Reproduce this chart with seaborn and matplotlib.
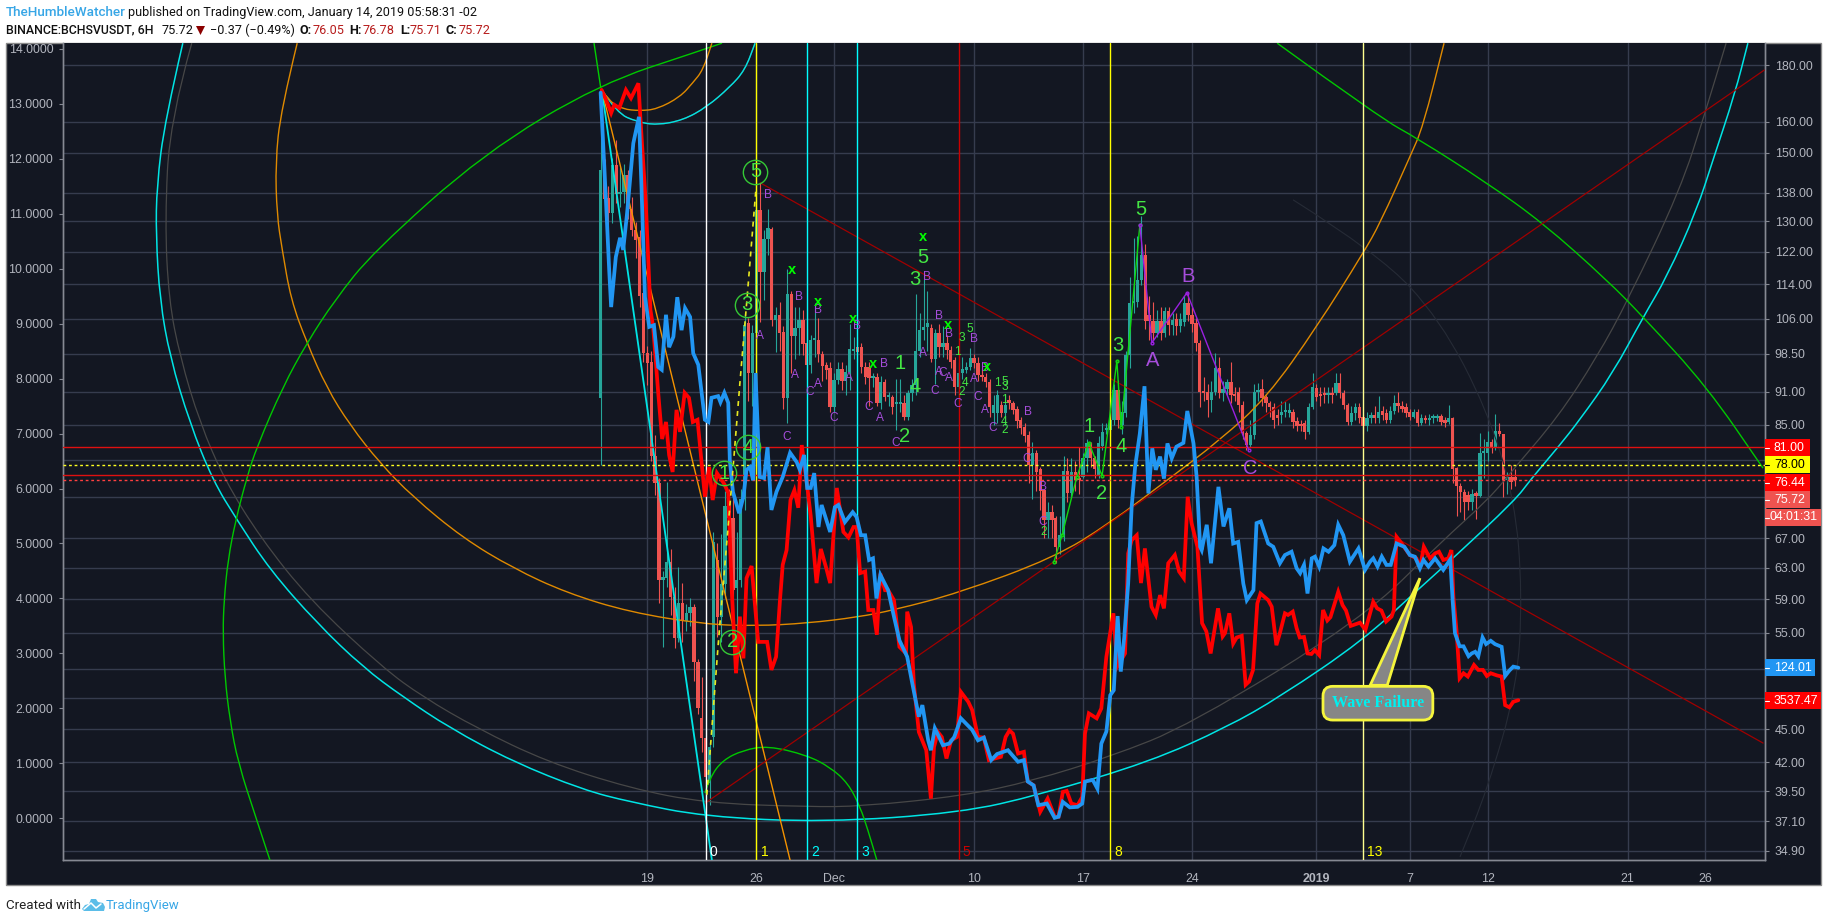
import numpy as np
import pandas as pd
import seaborn as sns
import matplotlib
matplotlib.use("Agg")
import matplotlib.pyplot as plt
from matplotlib.lines import Line2D
from matplotlib.patches import Rectangle, PathPatch, Polygon
from matplotlib.path import Path

# ------------------------------------------------------------------ data
# 6H candles; values are on the left-hand scale of the chart
candle_open = [7.65,11.79,11.28,11.01,11.88,11.36,11.39,11.70,11.08,10.70,10.57,9.56,8.46,8.30,6.59,6.10,4.34,4.37,4.66,4.03,3.28,3.92,3.59,3.74,3.84,2.84,1.83,1.46,0.64,1.48,4.70,3.66,4.26,5.68,5.46,4.19,4.34,5.81,9.01,8.10,8.83,11.07,9.94,10.54,10.72,9.07,9.16,8.85,7.65,9.54,8.77,8.92,9.07,8.65,8.25,8.70,8.70,8.45,8.25,8.19,7.48,7.97,8.17,7.95,8.12,8.50,8.57,8.57,8.21,8.21,8.01,8.03,7.56,7.94,7.66,7.66,7.54,7.54,7.56,7.30,7.74,7.88,8.50,8.88,8.94,8.92,8.35,8.83,8.57,8.65,8.52,8.34,7.85,8.10,8.15,8.21,8.37,8.28,8.06,8.03,7.94,7.37,7.37,7.52,7.37,7.61,7.56,7.45,7.25,7.12,6.97,6.43,6.65,6.35,5.97,5.43,5.57,5.46,4.94,5.15,6.32,5.92,6.30,6.20,6.21,6.55,6.79,6.55,6.25,6.77,7.06,7.06,7.25,7.79,7.15,7.37,8.43,9.37,9.39,9.79,10.25,9.16,9.05,8.83,9.05,8.83,9.23,8.97,9.09,8.96,9.03,9.37,9.16,9.01,8.65,7.76,7.76,7.61,7.76,8.19,7.74,7.81,7.94,7.70,7.76,7.52,7.01,6.79,6.97,7.76,7.81,7.66,7.56,7.48,7.34,7.34,7.39,7.37,7.39,7.23,7.17,7.19,7.03,7.48,7.83,7.72,7.72,7.70,7.72,7.74,7.92,7.74,7.52,7.21,7.37,7.48,7.30,7.14,7.28,7.34,7.28,7.41,7.37,7.25,7.41,7.56,7.50,7.48,7.39,7.30,7.39,7.19,7.28,7.25,7.28,7.28,7.31,7.25,7.21,7.28,6.37,6.04,5.93,5.88,5.75,5.90,5.87,6.65,6.65,6.85,6.74,7.05,6.99,6.15,6.21,6.21]
candle_close = [11.79,11.27,11.01,11.88,11.36,11.39,11.70,11.08,10.70,10.52,9.50,8.46,8.28,6.59,6.10,4.34,4.39,4.66,4.03,3.28,3.92,3.59,3.74,3.84,2.84,2.01,1.46,0.75,1.30,5.03,3.66,4.26,5.68,5.46,4.15,4.34,5.81,8.97,8.10,8.83,11.07,9.94,10.54,10.74,9.07,9.16,8.83,7.65,9.54,8.77,8.92,9.07,8.63,8.25,8.70,8.72,8.45,8.23,8.16,7.48,7.97,8.17,7.95,8.12,8.54,8.52,8.48,8.21,8.03,8.01,8.04,7.56,7.94,7.66,7.66,7.48,7.54,7.54,7.30,7.74,7.88,8.50,8.88,8.94,9.01,8.35,8.83,8.57,8.65,8.52,8.30,7.85,8.10,8.17,8.21,8.37,8.28,8.06,8.03,7.94,7.48,7.52,7.70,7.37,7.52,7.56,7.43,7.23,7.10,6.96,6.43,6.65,6.30,5.95,5.43,5.57,5.43,4.94,5.15,6.32,5.92,6.30,6.15,6.15,6.55,6.83,6.55,6.35,6.83,7.03,7.09,7.25,7.79,7.25,7.39,8.43,9.37,9.39,9.79,10.25,9.05,9.05,8.83,9.05,8.83,9.23,8.97,9.07,8.96,9.08,9.37,9.16,8.99,8.65,7.76,7.74,7.61,7.76,8.19,7.74,7.81,7.94,7.70,7.68,7.52,7.01,6.79,6.97,7.76,7.79,7.65,7.56,7.48,7.25,7.28,7.39,7.43,7.43,7.21,7.14,7.14,7.03,7.48,7.85,7.66,7.68,7.70,7.74,7.70,7.92,7.74,7.52,7.21,7.37,7.48,7.28,7.14,7.28,7.34,7.28,7.39,7.34,7.25,7.41,7.56,7.50,7.45,7.37,7.30,7.39,7.19,7.28,7.25,7.28,7.30,7.31,7.21,7.19,7.28,6.35,6.04,5.93,5.75,5.75,5.90,5.87,6.65,6.67,6.85,6.74,7.05,6.99,6.15,6.21,6.12,6.15]
candle_high = [13.2,12.0,11.5,12.01,12.34,11.84,11.9,11.8,11.3,10.85,10.7,9.90,8.6,8.5,6.97,6.2,4.5,6.12,4.9,4.2,4.57,4.28,3.9,4.0,3.9,2.9,2.58,1.6,1.4,5.21,5.0,5.18,5.95,6.0,5.9,5.2,6.0,9.2,9.1,8.97,11.45,11.55,10.7,11.08,10.75,9.3,9.4,8.95,10.0,9.6,9.3,9.3,9.25,8.9,8.8,9.37,9.1,8.5,8.3,8.3,8.1,8.3,8.3,8.25,9.0,8.75,8.75,8.65,8.3,8.3,8.1,8.1,8.05,8.0,7.75,7.7,8.0,8.0,7.7,7.8,8.0,9.54,9.2,9.9,9.6,9.0,8.9,9.0,8.95,8.8,8.6,8.4,8.3,8.4,8.3,8.55,8.45,8.4,8.2,8.1,8.0,7.7,7.8,7.6,7.7,7.7,7.6,7.5,7.3,7.2,7.05,6.85,6.7,6.4,6.0,5.75,5.7,5.5,5.5,6.6,6.55,6.55,6.5,6.75,6.65,6.9,6.85,6.6,6.95,7.2,7.2,7.5,7.9,7.97,7.6,8.5,9.85,10.55,10.6,10.95,10.45,9.5,9.4,9.25,9.3,9.3,9.3,9.2,9.2,9.2,9.5,9.55,9.3,9.1,8.7,8.03,7.9,7.95,8.46,8.4,7.95,8.0,8.3,7.85,7.85,7.6,7.05,7.25,7.9,7.92,8.0,7.7,7.6,7.55,7.45,7.6,7.6,7.55,7.45,7.3,7.25,7.25,7.55,8.1,7.9,7.85,7.85,7.85,7.85,8.1,8.1,7.8,7.55,7.5,7.55,7.55,7.35,7.4,7.4,7.5,7.68,7.5,7.45,7.5,7.7,7.75,7.6,7.55,7.45,7.45,7.45,7.35,7.33,7.35,7.35,7.36,7.36,7.3,7.52,7.3,6.4,6.1,6.0,5.95,6.0,5.95,7.01,6.9,7.05,6.9,7.35,7.2,7.0,6.3,6.43,6.35]
candle_low = [6.43,10.95,10.3,10.83,11.2,11.12,11.2,10.9,10.6,10.2,9.30,8.30,7.88,6.5,5.88,3.92,3.12,4.2,3.7,3.1,3.2,3.2,3.4,3.5,2.5,1.9,1.2,0.55,0.25,1.3,3.3,3.2,4.0,4.8,3.3,3.0,4.2,5.6,7.6,7.5,7.9,9.03,9.43,10.25,8.95,8.48,8.5,7.45,7.2,8.1,8.35,8.43,8.43,8.0,8.1,8.4,8.3,7.95,8.0,7.4,7.39,7.9,7.8,7.7,7.8,8.35,8.3,8.1,7.9,7.5,7.85,7.5,7.45,7.6,7.5,7.35,7.06,7.4,7.25,7.25,7.6,7.7,8.4,8.7,8.5,8.3,7.9,8.4,8.4,8.35,8.2,7.7,7.6,8.0,8.1,8.15,8.2,7.95,7.95,7.85,7.3,7.15,7.2,7.3,7.15,7.45,7.35,7.1,7.0,6.85,6.1,5.8,5.95,5.6,5.1,5.1,5.1,4.65,4.8,5.05,5.75,5.85,5.95,5.9,6.2,6.3,6.4,6.2,6.2,6.7,7.0,6.95,7.15,7.1,7.0,7.3,8.2,9.2,9.3,9.7,8.9,8.7,8.7,8.75,8.7,8.75,8.8,8.8,8.8,8.85,8.95,9.05,8.85,8.5,7.48,7.6,7.3,7.4,7.7,7.65,7.6,7.7,7.55,7.6,7.4,6.9,6.7,6.75,6.9,7.6,7.5,7.4,7.3,7.1,7.15,7.2,7.3,7.3,7.1,7.05,7.05,6.9,7.0,7.45,7.6,7.5,7.55,7.55,7.55,7.7,7.65,7.45,7.15,7.15,7.25,7.2,7.0,7.05,7.2,7.2,7.2,7.25,7.2,7.2,7.35,7.4,7.4,7.3,7.25,7.28,7.13,7.15,7.2,7.15,7.2,7.22,7.15,7.12,7.18,6.1,5.5,5.57,5.43,5.6,5.6,5.45,5.85,6.2,6.5,6.65,6.7,6.95,5.85,5.9,6.0,6.05]

blue_t = [0,1.4,2.2,2.7,3.9,5,5.8,6.8,8.4,9.85,10.5,11.4,12.5,13.7,14.8,15.7,16.8,17.6,18.7,19.7,20.8,21.7,23,23.8,25.1,26.8,27.7,28.5,30.2,30.8,31.8,32.8,33.2,34,35.6,36.7,37.5,38.4,39.2,39.8,40.9,42,42.9,43.9,45.2,46.8,48.7,50.4,51.2,52.3,53.1,54,54.9,56,56.8,59,60.2,61.1,62.8,64.8,65.8,66.9,68,69,70,70.9,71.9,73.9,75.4,76.8,78.8,80.1,81.8,82.7,84.2,84.9,85.9,88,89.6,90.9,92.6,95.5,97,98.5,100.4,101.9,104.7,107.3,108.8,109.8,111.3,112.5,114.7,116.7,117.7,118.8,120.6,122.6,123.8,124.5,126.5,127.7,128.7,130,131,131.9,132.9,133.7,134.6,135.6,136.5,137.4,138.6,139.8,140.8,141.8,142.7,143.8,144.8,145.7,146.8,148,149.8,150.8,152.4,153.2,154.1,154.5,155.8,156.9,158.8,160.1,161.6,162.6,163.9,165.2,166.1,167.8,168.6,169.7,171.6,172.9,174.6,175.9,177.6,178.9,179.8,180.8,181.7,182.8,183.6,184.7,185.8,187.1,188.6,189.6,190.9,192.6,194.8,196.5,197.8,198.6,199.7,200.8,202,203.1,204.6,206.6,208,209.3,210.6,211.5,212.8,214.5,216.6,218.4,219,219.6,220.8,221.8,223.1,223.9,224.8,225.6,226.7,227.6,228.8,229.9,231.6,232.5,233.6,234.6,235.9]
blue_v = [13.2,11.19,9.97,9.30,10.21,10.56,10.34,11.01,12.28,12.76,11.48,9.48,8.94,8.97,8.21,8.16,9.16,8.57,8.76,9.48,8.88,9.28,9.12,8.46,8.25,7.25,7.21,7.65,7.68,7.57,7.74,7.56,6.52,5.94,5.55,5.85,6.34,6.39,6.15,8.10,6.21,6.19,6.75,5.61,5.94,6.21,6.65,6.48,6.34,6.61,6.01,6.01,6.28,5.30,5.70,5.21,5.66,5.70,5.39,5.57,5.48,5.15,5.15,4.70,4.73,4.0,4.43,4.15,3.67,3.24,2.94,2.46,1.85,2.06,1.42,1.24,1.64,1.33,1.36,1.48,1.82,1.61,1.42,1.47,1.06,1.17,1.24,1.03,1.06,0.67,0.60,0.24,0.27,0.01,0.03,0.30,0.20,0.21,0.27,0.67,0.70,0.54,1.36,1.58,2.24,2.33,3.68,2.67,3.30,4.27,5.67,6.40,7.0,7.86,5.91,6.73,6.34,6.58,6.18,6.82,6.55,6.76,6.83,7.41,6.82,6.21,4.94,4.88,5.34,4.64,6.03,5.31,5.64,5.0,5.03,4.27,3.97,4.15,5.37,5.40,5.0,4.94,4.64,4.79,4.85,4.55,4.46,4.61,4.09,4.73,4.76,4.58,4.91,4.85,4.97,5.34,5.15,4.67,4.91,4.52,4.67,4.73,4.58,4.76,4.61,4.61,5.0,4.94,4.79,4.76,4.55,4.70,4.58,4.73,4.52,4.71,3.97,3.37,3.13,3.13,2.95,3.0,3.03,2.95,3.29,3.17,3.23,3.17,3.12,2.59,2.69,2.76,2.74]

red_t = [0.25,1.4,2.7,3.5,4.8,6.5,7.8,9.7,10.3,11.6,12.8,13.5,14.8,15.8,16.8,17.6,18.5,19.5,20.4,21.6,22.7,23.7,24.9,26.8,27.9,28.8,29.9,31.8,32.8,33.7,34.8,35.8,36.7,37.5,38.8,40.5,42.8,43.9,45.1,46.1,46.8,47.8,48.8,49.8,50.8,51.7,53,54,55.5,56.6,58,59,60.7,62.4,63.7,65,65.8,66.7,68,68.8,70.1,71,71.9,73.1,73.9,75.4,76.8,78.5,78.8,79.8,80.5,81.8,83.7,84.9,85.7,86.7,87.7,88.9,90.1,91.6,92.6,94.5,95.5,97,98.5,99.8,102.9,104.1,105.1,106,107.3,108.8,109.8,111.3,113,114.9,116.7,117.7,118.8,119.8,121,122.6,123.8,124.5,125.5,127.5,128.7,130,131.8,132.8,134.8,135.6,136.5,137.8,138.9,139.9,141.6,142.7,143.8,144.8,145.9,147.6,148.7,149.9,150.9,151.9,153.4,154.6,155.7,156.8,158.7,159.9,160.5,161.6,162.6,163.5,164.8,165.8,166.7,167.7,168.8,169.6,171.6,172.5,173.7,174.6,175.9,176.7,177.9,178.9,179.7,180.8,181.7,182.7,183.6,184.7,185.7,186.8,187.6,189.6,190.7,191.6,192.8,195.2,196.6,198.6,199.6,200.7,201.9,203.3,203.9,204.6,205.9,208,209.7,210.6,211.6,213.2,214.5,215.5,216.6,217.9,218.7,219.2,220,220.8,221.8,222.9,224.5,225.6,226.8,227.8,228.8,230.4,231.6,232.5,233.6,234.6,235.9]
red_v = [13.25,13.07,12.83,12.98,12.92,13.25,13.10,13.37,12.65,11.19,9.25,8.94,7.74,6.9,7.21,6.61,6.30,7.43,7.03,7.74,7.65,7.21,7.25,5.85,6.39,5.79,6.28,6.08,5.92,4.15,2.64,3.67,2.91,4.37,4.59,3.21,3.21,2.70,2.94,3.97,4.61,4.88,5.79,5.97,5.65,6.79,6.10,5.5,4.28,4.9,4.55,4.28,6.01,5.21,5.11,5.30,5.30,4.46,4.49,3.79,3.79,3.34,4.45,4.15,4.15,3.97,3.12,3.0,3.76,3.48,2.45,1.57,1.24,0.36,1.30,1.57,1.48,1.09,1.42,1.48,2.30,2.12,1.97,1.48,1.47,1.06,1.12,1.48,1.60,1.54,1.18,1.21,0.67,0.60,0.12,0.36,0.03,0.03,0.48,0.50,0.27,0.24,0.39,1.54,1.91,1.82,2.0,2.94,3.73,2.76,3.0,4.82,5.06,5.15,4.28,4.91,3.85,3.70,4.06,3.82,4.64,4.79,4.49,4.37,5.85,5.37,4.94,3.55,3.40,3.0,3.82,3.31,3.37,3.73,3.18,3.29,3.32,2.43,2.49,2.70,3.91,4.09,3.97,3.85,3.15,3.37,3.73,3.70,3.76,3.46,3.29,3.30,3.0,2.99,3.06,2.97,3.79,3.6,3.66,4.12,3.88,3.78,3.5,3.56,3.43,3.94,3.82,3.78,3.58,3.67,3.79,5.12,5.0,4.79,4.73,4.55,4.94,4.73,4.82,4.85,4.7,4.73,4.88,4.03,3.42,2.55,2.64,2.58,2.79,2.70,2.70,2.59,2.64,2.6,2.58,2.06,2.02,2.12,2.15]

# Fibonacci / arc drawing tools (candle index, left scale)
arc_cyan = [(-107.4,14.10),(-112,12.70),(-114.1,11.5),(-114.3,10.6),(-113.3,9.43),(-110.7,8.39),(-105.6,7.19),(-99.7,6.15),(-93.5,5.43),(-85,4.52),(-72.9,3.55),(-61.1,2.75),(-50.8,2.21),(-38.7,1.64),(-22.5,1.03),(-4.5,0.52),(7.5,0.30),(26.8,0.03),(57.7,-0.07),(92.4,0.10),(112.9,0.43),(141.2,1.03),(161,1.66),(174.6,2.21),(196,3.24),(209.9,4.15),(219.1,4.73),(235.1,5.79),(238.9,6.15),(246.1,6.75),(251.7,7.25),(260.2,8.10),(268,9.12),(274.1,9.85),(281.8,11.07),(285.9,11.97),(291.6,13.19),(294.9,14.10)]
arc_grey = [(-105.1,14.10),(-110.7,12.70),(-112,10.88),(-111,9.43),(-108.1,8.39),(-103,7.19),(-96.6,6.15),(-87.6,5.12),(-74.7,3.97),(-56,2.74),(-45.7,2.21),(-31.8,1.64),(-13.8,1.03),(7.5,0.55),(26.8,0.28),(53.3,0.21),(67.4,0.22),(93.1,0.41),(110.9,0.68),(130.9,1.12),(151.5,1.70),(196,3.64),(215.8,5.01),(228.6,5.83),(234.5,6.34),(246.1,7.30),(256.1,8.39),(264.1,9.43),(277.5,11.43),(283.9,12.83),(289.3,14.10)]
arc_orange = [(-78,14.10),(-82.2,12.88),(-83.6,11.92),(-83.2,10.97),(-81.9,10.36),(-79.6,9.43),(-75.5,8.65),(-70.4,7.83),(-64.4,7.15),(-56.7,6.46),(-48.3,5.85),(-35.4,5.10),(-22.5,4.55),(-8.7,4.10),(7.5,3.75),(26.8,3.53),(39.9,3.50),(53.1,3.55),(66,3.66),(75.4,3.79),(92,4.10),(116.5,4.74),(130.9,5.37),(145.6,6.15),(159.2,6.88),(171.3,7.66),(184.1,8.94),(196,10.28),(200.4,10.83),(208,12.03),(211.4,12.58),(216.8,14.10)]
arc_green_left = [(31.2,14.10),(25.5,13.96),(-0.2,13.36),(-30,12.10),(-58.5,10.30),(-68.3,9.43),(-75.5,8.65),(-81.7,7.85),(-88.4,6.75),(-90.9,6.21),(-93.8,5.43),(-95.8,4.70),(-96.8,3.97),(-97.1,3.37),(-96.6,2.57),(-95.3,1.79),(-93.2,1.01),(-88.4,-0.03),(-85,-0.76)]
arc_green_right = [(173.9,14.10),(200.4,12.74),(209.9,12.37),(227.8,11.56),(242.2,10.83),(258.7,9.79),(268,9.12),(284.4,7.85),(298.8,6.37)]
arc_green_small = [(26.8,0.46),(28.1,0.75),(31.4,1.06),(36.6,1.24),(43,1.32),(53,1.15),(59,0.93),(63.6,0.64),(66.7,0.21),(68.7,-0.21),(71,-0.76)]
arc_cyan_top = [(0.3,13.25),(4.2,12.83),(9.3,12.67),(14.5,12.61),(21.2,12.70),(27.3,12.94),(33.2,13.30),(37.1,13.61),(39.7,14.10)]
arc_orange_top = [(0.3,13.25),(2.4,13.03),(5.7,12.90),(10.1,12.87),(14.5,12.90),(20.4,13.12),(23.7,13.38),(26.3,13.61),(28.6,14.10)]
arc_faint = [(178,11.25),(200.4,10.25),(215.8,9.07),(227.9,7.43),(235,5.79),(236.9,4.10),(235.6,2.39),(227.9,0.52),(220.9,-0.70)]

segments = [
    ((-1.7,0.0),(14.10,13.30),"#00d000",1.0),
    ((0.3,28.6),(13.25,-0.76),"#00e5e5",1.3),
    ((0.3,48.7),(13.25,-0.76),"#f59300",1.0),
    ((41,298.8),(11.56,1.37),"#a00000",0.9),
    ((26.9,299.1),(0.28,13.61),"#a00000",0.9),
]
wave_dash_t = [27.3,30.2,34,35.8,37.6,39.9]
wave_dash_v = [0.43,3.15,6.34,7.92,9.43,11.43]
wave_green_t = [116.5,118.6,122.4,125.5,128.9,132.7,133.8,138.6]
wave_green_v = [4.66,5.15,6.21,6.83,6.23,8.32,7.12,10.79]
wave_purple_t = [138.6,141.7,150.7,166.6]
wave_purple_v = [10.79,8.65,9.56,6.70]

purple_small = [("B",42.9,11.34),("A",41,8.77),("B",50.9,9.48),("A",49.9,8.06),("C",47.9,6.94),("B",55.8,9.25),("A",55.8,7.90),("C",53.8,7.76),("B",65.9,8.96),("A",63.8,8.01),("C",60,7.28),("B",72.8,8.26),("C",68.9,7.48),("A",71.8,7.28),("C",75.8,6.83),("B",83.8,9.85),("A",82.8,8.47),("B",86.9,9.14),("B",89.5,8.81),("A",86.9,8.12),("C",88,8.10),("A",89.5,8.01),("C",85.9,7.77),("B",96,8.72),("C",91.8,7.54),("A",96,7.99),("B",98.7,8.19),("C",96.9,7.66),("A",98.7,7.43),("C",100.8,7.10),("B",109.8,7.39),("C",109.6,6.54),("B",113.7,6.03),("C",113.7,5.39)]
purple_big = [("A",141.9,8.32),("B",150.9,9.85),("C",166.9,6.37)]
green_big = [("2",78,6.94),("1",76.9,8.28),("4",80.8,7.86),("5",82.8,10.21),("3",80.8,9.81),("1",125.5,7.12),("2",128.8,5.90),("3",132.9,8.61),("4",133.7,6.76),("5",138.9,11.08)]
green_small = [("1",91.8,8.48),("3",92.9,8.74),("5",94.9,8.90),("4",93.8,7.92),("2",92.9,7.76),("1",101.9,7.92),("1",103.7,7.61),("5",103.9,7.94),("3",103.9,7.85),("4",103.7,7.21),("2",103.9,7.06),("2",114,5.21)]
green_x = [(49.1,9.97),(55.9,9.39),(64.9,9.08),(70,8.26),(82.9,10.57),(89.2,8.97),(99.2,8.21)]
circled = [("5",39.8,11.76),("3",37.6,9.34),("4",37.8,6.75),("1",31.7,6.28),("2",33.8,3.21)]

fib_index = [27,40,53,66,92,131,196]
fib_label = ["0","1","2","3","5","8","13"]
fib_color = ["#ffffff","#ffff00","#00ffff","#00ffff","#cc0000","#ffff00","#ffff90"]
fib_label_color = ["#ffffff","#ffff00","#00ffff","#00ffff","#cc0000","#ffff00","#ffff00"]

price_level_v = [6.75,6.43,6.25,6.15]
price_level_style = [("#e01010","-"),("#ffff20",(0,(2,2))),("#e01010","-"),("#ff4040",(0,(2,2)))]

xtick_pos = [12,40,60,96,124,152,184,208,228,264,284]
xtick_lab = ["19","26","Dec","10","17","24","2019","7","12","21","26"]
ltick_val = list(range(0,15))
rtick_val = [180,160,150,138,130,122,114,106,98.5,91,85,79,73,67,63,59,55,51,48,45,42,39.5,37.1,34.9]
rtick_hidden = [79,73,51,48]
tag_rows = [("81.00","#ff0000","#ffffff",447.5,1810),("78.00","#ffff00","#000000",465,1810),("76.44","#ff0000","#ffffff",482.5,1810),("75.72","#ef5350","#ffffff",499.5,1810),("04:01:31","#ef5350","#ffffff",517.5,1821),("124.01","#2196f3","#ffffff",667.5,1815),("3537.47","#ff0000","#ffffff",700.5,1821)]

# ------------------------------------------------------------------ style
W, H = 1828, 922
BG, GRID, TXT = "#131722", "#363c4e", "#b2b5be"
AXTXT = 8.9
sns.set_theme(style="dark")
plt.rcParams["font.family"] = ["Liberation Sans", "DejaVu Sans"]
plt.rcParams["axes.unicode_minus"] = False

fig = plt.figure(figsize=(W/100, H/100), dpi=100, facecolor="white")
rect = [63/W, (H-860)/H, (1765-63)/W, (860-43)/H]
ax_r = fig.add_axes(rect, facecolor=BG)
ax = ax_r.twinx()

def fx(px): return px/W
def fy(py): return 1-py/H

# dark panel behind both axes, with its thin frame
fig.add_artist(Rectangle((fx(6),fy(885)),(1821-6)/W,(885-43)/H,transform=fig.transFigure,fc=BG,ec="#8a8a8a",lw=1.0,zorder=-5))

# right-hand logarithmic scale and its grid
ax_r.set_yscale("log")
ax_r.set_ylim(34.23,188.6)
ax_r.set_xlim(-138.2,299.3)
ax_r.yaxis.tick_right()
ax_r.yaxis.set_label_position("right")
ax_r.set_yticks(rtick_val)
ax_r.set_yticklabels(["" if v in rtick_hidden else f"{v:.2f}" for v in rtick_val])
ax_r.minorticks_off()
ax_r.tick_params(axis="y",which="both",left=False,right=True,labelleft=False,labelright=True,colors=TXT,length=3,width=0.8,pad=4,labelsize=AXTXT,color="#868993")
ax_r.set_xticks(xtick_pos)
ax_r.set_xticklabels(xtick_lab)
ax_r.tick_params(axis="x",colors=TXT,length=3,width=0.8,pad=6,labelsize=AXTXT,color="#868993")
for lab in ax_r.get_xticklabels():
    if lab.get_text()=="2019": lab.set_fontweight("bold")
ax_r.grid(True,axis="both",color=GRID,lw=1.0)
ax_r.set_axisbelow(True)

# left linear scale, on top of the grid
ax.set_zorder(2); ax_r.set_zorder(1); ax.patch.set_visible(False)
ax.set_xlim(-138.2,299.3)
ax.set_ylim(-0.757,14.103)
ax.yaxis.tick_left()
ax.set_yticks(ltick_val)
ax.set_yticklabels([f"{v:.4f}" for v in ltick_val])
ax.tick_params(axis="y",left=True,right=False,labelleft=True,labelright=False,colors=TXT,length=3,width=0.8,pad=4,labelsize=AXTXT,color="#868993")
ax.tick_params(axis="x",bottom=False,labelbottom=False)
ax.grid(False)
for a in (ax,ax_r):
    for s,sp in a.spines.items():
        sp.set_color("#868993"); sp.set_linewidth(1.0); sp.set_visible(s!="top")

# candles
UP, DOWN = "#26a69a", "#ef5350"
idx = np.arange(len(candle_open))
o, c, hi, lo = map(np.array,(candle_open,candle_close,candle_high,candle_low))
cols = np.where(c>=o,UP,DOWN)
ax.vlines(idx,lo,hi,colors=cols,lw=0.8,zorder=3)
body = np.maximum(np.abs(c-o),0.04)
ax.bar(idx,body,bottom=np.minimum(o,c),width=0.86,color=cols,lw=0,zorder=3)

def curve(points,color,lw,z=4,alpha=1.0):
    p=np.array(points,float)
    verts=[p[0]]; codes=[Path.MOVETO]
    for i in range(1,len(p)-1):
        m=(p[i]+p[i+1])/2
        verts+= [p[i],m]; codes+=[Path.CURVE3,Path.CURVE3]
    verts.append(p[-1]); codes.append(Path.LINETO)
    ax.add_patch(PathPatch(Path(verts,codes),fc="none",ec=color,lw=lw,zorder=z,alpha=alpha))

curve(arc_faint,"#262b36",0.8)
curve(arc_grey,"#474747",0.9)
curve(arc_cyan,"#00e5e5",1.1)
curve(arc_orange,"#e08a00",1.0)
curve(arc_green_left,"#00c800",1.0)
curve(arc_green_right,"#00c800",1.0)
curve(arc_green_small,"#00c800",1.0)
curve(arc_cyan_top,"#474747",1.0)
curve(arc_cyan_top,"#00e5e5",1.0)
curve(arc_orange_top,"#e08a00",1.0)
for xs,ys,col,lw in segments:
    ax.plot(xs,ys,color=col,lw=lw,zorder=4)

# time-cycle verticals and price levels
for n,lab,col,lc in zip(fib_index,fib_label,fib_color,fib_label_color):
    ax.axvline(n,color=col,lw=1.0,zorder=4.5)
    ax.text(n+1.1,-0.62,lab,color=lc,fontsize=10,va="center",ha="left",zorder=8)
for v,(col,ls) in zip(price_level_v,price_level_style):
    ax.axhline(v,color=col,ls=ls,lw=1.0,zorder=4.5)

# the two compared series
frame_red = pd.DataFrame({"t":red_t,"v":red_v})
frame_blue = pd.DataFrame({"t":blue_t,"v":blue_v})
sns.lineplot(data=frame_red,x="t",y="v",ax=ax,color="#ff0000",lw=2.7,estimator=None,sort=False,legend=False,zorder=5,solid_joinstyle="miter")
sns.lineplot(data=frame_blue,x="t",y="v",ax=ax,color="#2196f3",lw=2.7,estimator=None,sort=False,legend=False,zorder=5.1,solid_joinstyle="miter")
ax.set_xlabel(""); ax.set_ylabel("")

# wave counts
ax.plot(wave_dash_t,wave_dash_v,color="#e8e820",lw=1.2,ls=(0,(3,3)),zorder=6)
ax.plot(wave_green_t,wave_green_v,color="#10d810",lw=1.0,marker="o",ms=2,mfc="none",zorder=6)
ax.plot(wave_purple_t,wave_purple_v,color="#9a20e0",lw=1.0,marker="o",ms=2,mfc="none",zorder=6)

GREENT, PURPT = "#44e544", "#a64ddb"
for lab,n,v in purple_small:
    ax.text(n,v,lab,color=PURPT,fontsize=8.6,ha="center",va="center",zorder=7)
for lab,n,v in purple_big:
    ax.text(n,v,lab,color=PURPT,fontsize=14.5,ha="center",va="center",zorder=7)
for lab,n,v in green_big:
    ax.text(n,v,lab,color=GREENT,fontsize=14.5,ha="center",va="center",zorder=7)
for lab,n,v in green_small:
    ax.text(n,v,lab,color=GREENT,fontsize=8.6,ha="center",va="center",zorder=7)
for n,v in green_x:
    ax.text(n,v,"x",color="#00ff00",fontsize=10.5,fontweight="bold",ha="center",va="center",zorder=7)
for lab,n,v in circled:
    ax.text(n,v,lab,color=GREENT,fontsize=14.5,ha="center",va="center",zorder=7)
    ax.plot([n],[v],marker="o",ms=17.5,mfc="none",mec="#35c935",mew=1.0,zorder=7)

# callout
ax.add_patch(Polygon([(197.8,2.42),(202.2,2.42),(210.6,4.37)],closed=True,fc="#868686",ec="#f5f53c",lw=2.0,zorder=8,joinstyle="miter"))
ax.text(199.8,2.095,"Wave Failure",color="#00f0f0",fontsize=11.6,fontweight="bold",family=["Liberation Serif"],ha="center",va="center",zorder=9,
        bbox=dict(boxstyle="round,pad=0.55,rounding_size=0.6",fc="#868686",ec="#f5f53c",lw=2.0))

# header
HEAD = ["Roboto","DejaVu Sans"]
def head(x,y,s,color="#111111",weight="normal",size=9.1):
    fig.text(fx(x),fy(y),s,color=color,fontweight=weight,fontsize=size,family=HEAD,va="center",ha="left")
head(6,12.5,"TheHumbleWatcher","#37a6e6","medium",9.7)
head(128,12.5,"published on TradingView.com, January 14, 2019 05:58:31 -02")
head(6,30,"BINANCE:BCHSVUSDT, 6H",weight="medium",size=8.9)
head(161.5,30,"75.72")
fig.add_artist(Polygon([(fx(196),fy(26)),(fx(205),fy(26)),(fx(200.5),fy(35))],closed=True,transform=fig.transFigure,fc="#8b0000",ec="none"))
head(210,30,"\u22120.37 (\u22120.49%)")
for x,lab,vx,val in [(299,"O:",313,"76.05"),(349,"H:",363,"76.78"),(400,"L:",410,"75.71"),(446,"C:",458.5,"75.72")]:
    head(x,30,lab,weight="bold")
    head(vx,30,val,"#b71c1c")

# footer
fig.text(fx(6),fy(905),"Created with",color="#222222",fontsize=9.6,family=HEAD,va="center",ha="left")
cloud = [(82,909),(85,905),(89,904),(91,899),(96,899),(98,902),(103,903),(105,907),(104,911),(84,911)]
fig.add_artist(Polygon([(fx(a),fy(b)) for a,b in cloud],closed=True,transform=fig.transFigure,fc="#5bbde8",ec="none"))
zig = [(84,909),(91,903),(96,908),(101,904)]
fig.add_artist(Line2D([fx(a) for a,b in zig],[fy(b) for a,b in zig],transform=fig.transFigure,color="white",lw=1.1))
fig.text(fx(106),fy(905),"TradingView",color="#37a6e6",fontsize=9.5,family=HEAD,va="center",ha="left")

# price tags
for lab,fc,tc,yc,xr in tag_rows:
    fig.add_artist(Rectangle((fx(1765),fy(yc+8.5)),(xr-1765)/W,17/H,transform=fig.transFigure,fc=fc,ec="none",zorder=10))
    fig.add_artist(Line2D([fx(1765),fx(1769)],[fy(yc),fy(yc)],transform=fig.transFigure,color=tc,lw=0.8,zorder=11))
    fig.text(fx(1774 if lab!="04:01:31" else 1770),fy(yc),lab,color=tc,fontsize=AXTXT,va="center",ha="left",zorder=11)

fig.savefig("out.png",dpi=100)
